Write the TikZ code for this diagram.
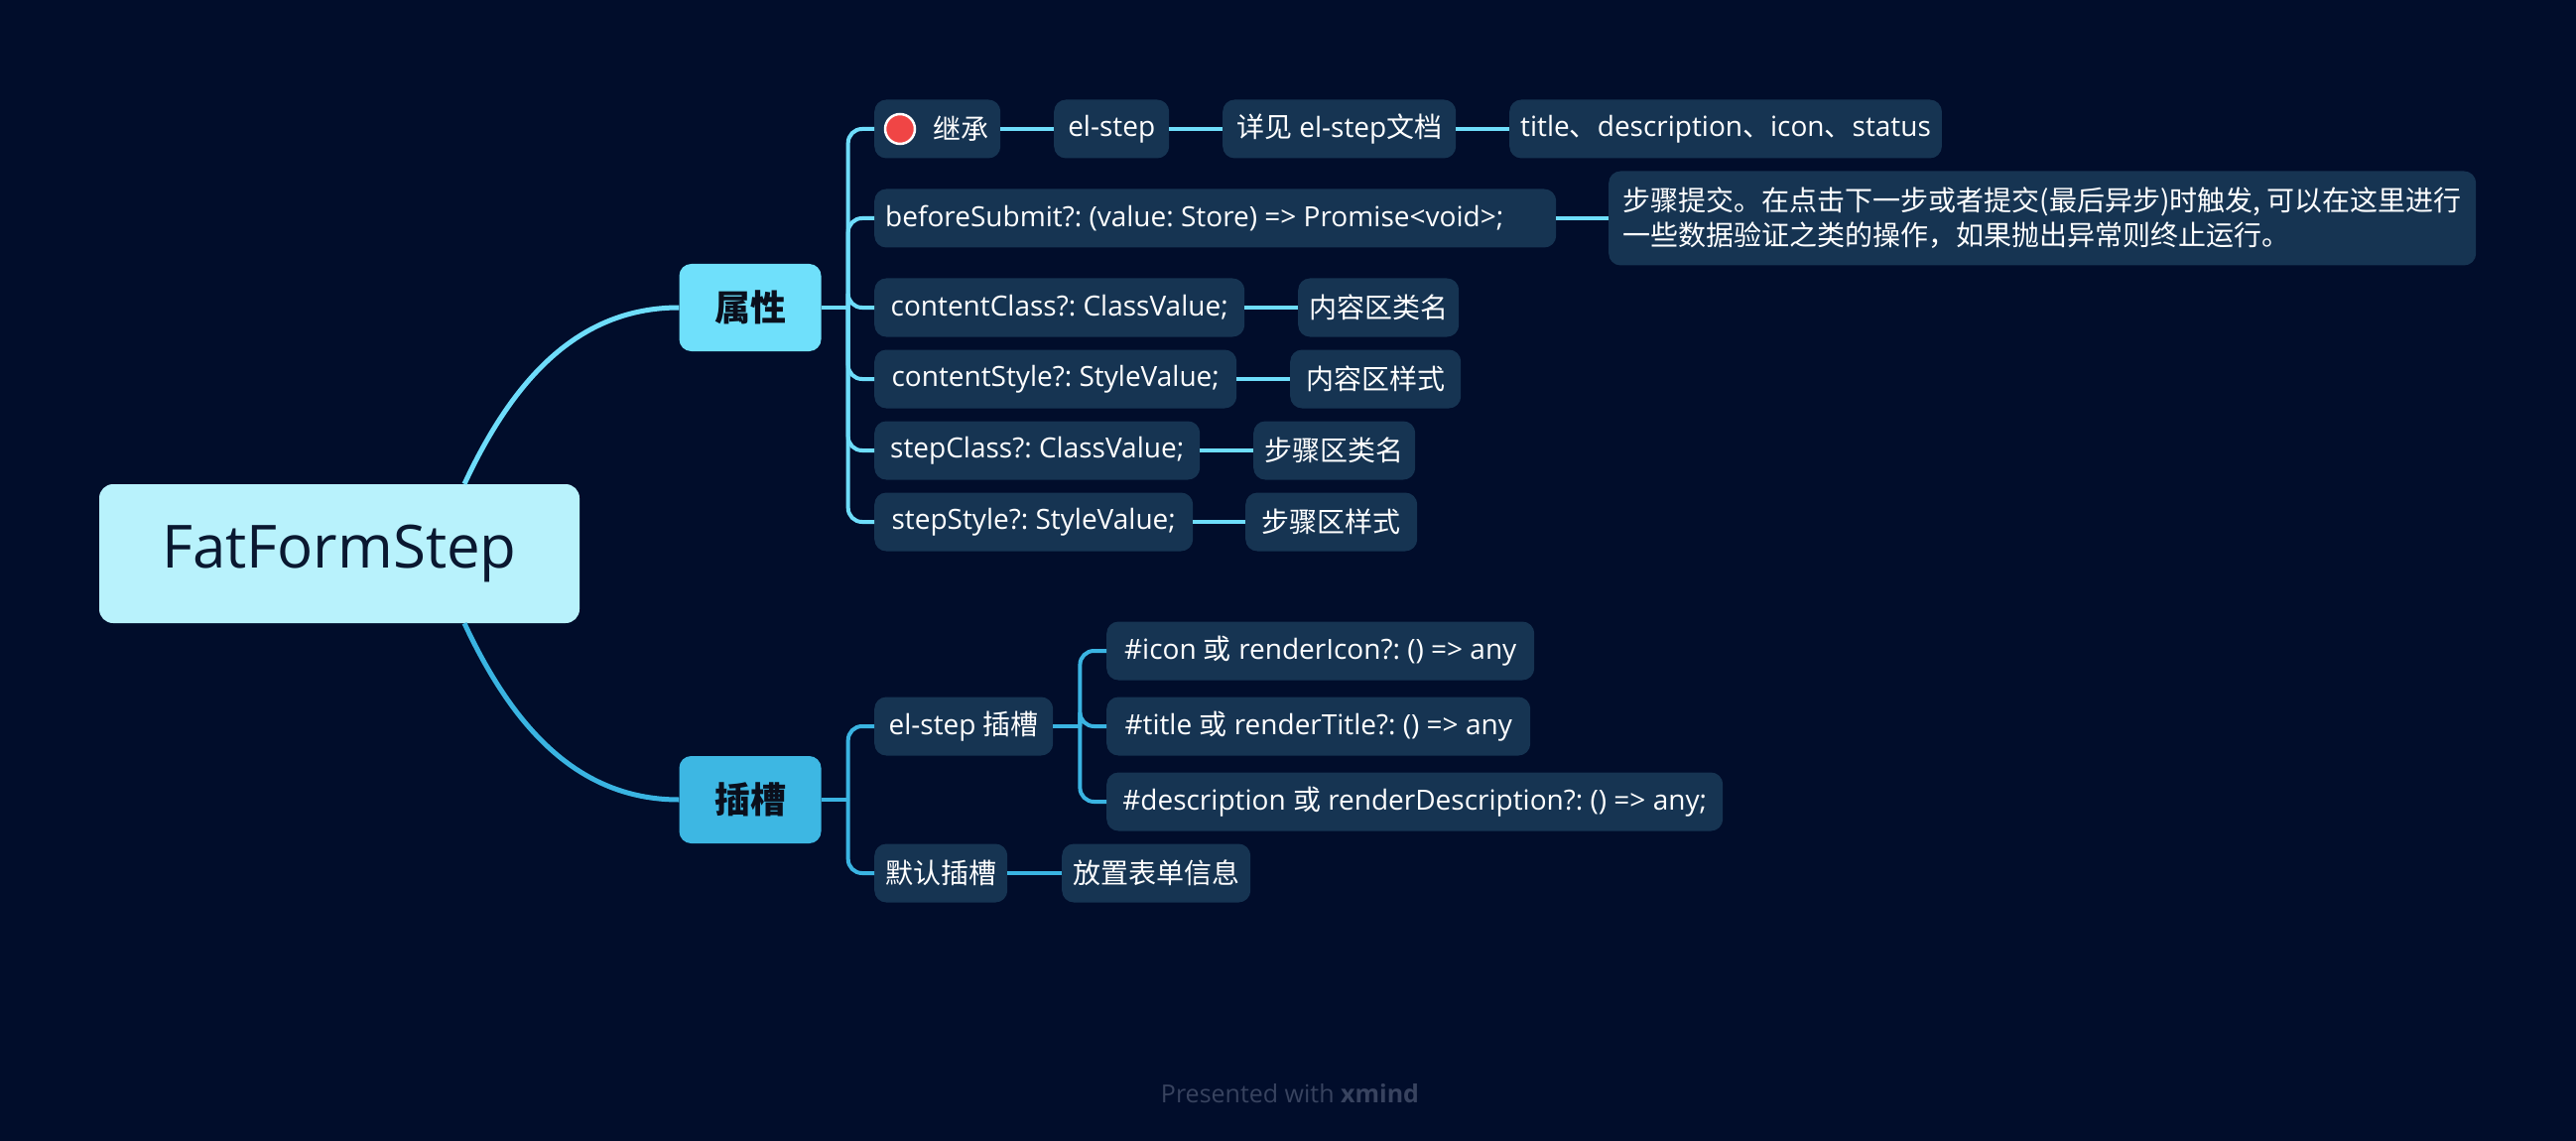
\documentclass[tikz,border=0pt]{standalone}
\usepackage{fontspec}
\setmainfont{Open Sans}
\newfontfamily\cjkfont{Noto Sans CJK SC}
\newcommand{\zh}[1]{{\cjkfont #1}}
\usepackage{tikz}

\definecolor{bgnavy}{HTML}{010D2B}
\definecolor{cardfill}{HTML}{163452}
\definecolor{rootfill}{HTML}{B8F2FC}
\definecolor{roottext}{HTML}{0A1830}
\definecolor{attrfill}{HTML}{6FE0FB}
\definecolor{slotfill}{HTML}{3DB7E3}
\definecolor{attrline}{HTML}{6EDDFB}
\definecolor{slotline}{HTML}{3AB4E2}
\definecolor{topictext}{HTML}{0A0F1C}
\definecolor{dotred}{HTML}{F04545}
\definecolor{creditgray}{HTML}{38435F}

\begin{document}
\frenchspacing
\begin{tikzpicture}[x=1pt, y=-1pt,
    rootbox/.style={rectangle, rounded corners=14pt, fill=rootfill, text=roottext,
        minimum width=484pt, minimum height=140pt, font=\fontsize{60}{70}\selectfont},
    topic/.style={rectangle, rounded corners=12pt, minimum width=143pt, minimum height=88pt,
        text=topictext, font=\fontsize{36}{40}\selectfont\bfseries},
    leaf/.style={rectangle, rounded corners=12pt, fill=cardfill, text=white, anchor=west,
        minimum width=#1, minimum height=59pt, inner xsep=11pt, inner ysep=0pt,
        font=\fontsize{28}{35}\selectfont},
    leaf/.default=0pt,
    reddot/.style={circle, fill=dotred, draw=white, line width=2.5pt, minimum size=30pt, inner sep=0pt},
    attrlink/.style={draw=attrline, line width=4pt},
    slotlink/.style={draw=slotline, line width=4pt},
    credit/.style={text=creditgray, font=\fontsize{25}{30}\selectfont}]

        \useasboundingbox (0,0) rectangle (2596,1150);
        \fill[bgnavy] (0,0) rectangle (2596,1150);

        % Root and main topics
        \node[rootbox] (root) at (342,558) {FatFormStep};
        \node[topic, fill=attrfill] (attr) at (756,310) {\zh{属性}};
        \node[topic, fill=slotfill] (slot) at (756,806) {\zh{插槽}};

        % Props
        \node[leaf=127pt] (inherit) at (881,130) {\hspace{47pt}\zh{继承}};
        \node[reddot] (dot) at ([xshift=26pt]inherit.west) {};
        \node[leaf=116pt] (elstep) at (1062,130) {el-step};
        \node[leaf=235pt] (elstepdoc) at (1232,130) {\zh{详见} el-step\zh{文档}};
        \node[leaf] (fields) at (1521,130) {title\zh{、}description\zh{、}icon\zh{、}status};
        \node[leaf, text width=665pt, align=flush left] (before) at (881,220) {beforeSubmit?: (value: Store) => Promise<void>;};
        \node[leaf=874pt, inner xsep=13pt, minimum height=95pt, align=flush left] (submitnote) at (1621,220)
            {\zh{步骤提交。在点击下一步或者提交(最后异步)时触发, 可以在这里进行}\\\zh{一些数据验证之类的操作，如果抛出异常则终止运行。}};
        \node[leaf=373pt] (cclass) at (881,310) {contentClass?: ClassValue;};
        \node[leaf=162pt] (cclassnote) at (1308,310) {\zh{内容区类名}};
        \node[leaf=365pt] (cstyle) at (881,382) {contentStyle?: StyleValue;};
        \node[leaf=172pt] (cstylenote) at (1300,382) {\zh{内容区样式}};
        \node[leaf=328pt] (sclass) at (881,454) {stepClass?: ClassValue;};
        \node[leaf=163pt] (sclassnote) at (1263,454) {\zh{步骤区类名}};
        \node[leaf=321pt] (sstyle) at (881,526) {stepStyle?: StyleValue;};
        \node[leaf=173pt] (sstylenote) at (1255,526) {\zh{步骤区样式}};

        % Slots
        \node[leaf=180pt] (elslot) at (881,732) {el-step \zh{插槽}};
        \node[leaf=431pt] (iconslot) at (1115,656) {\#icon \zh{或} renderIcon?: () => any};
        \node[leaf=427pt] (titleslot) at (1115,732) {\#title \zh{或} renderTitle?: () => any};
        \node[leaf=621pt] (descslot) at (1115,808) {\#description \zh{或} renderDescription?: () => any;};
        \node[leaf=134pt] (defslot) at (881,880) {\zh{默认插槽}};
        \node[leaf=189pt] (formnote) at (1070,880) {\zh{放置表单信息}};

        % Curves from root
        \draw[attrlink, line width=5pt] ([xshift=126pt]root.north) .. controls +(48,-103) and +(-103,0) .. (attr.west);
        \draw[slotlink, line width=5pt] ([xshift=126pt]root.south) .. controls +(48,103) and +(-103,0) .. (slot.west);

        % Forks
        \coordinate (attrfork) at ([xshift=27pt]attr.east);
        \coordinate (slotfork) at ([xshift=27pt]slot.east);
        \coordinate (elfork) at ([xshift=27pt]elslot.east);
        \draw[attrlink] (attr.east) -- (attrfork);
        \draw[slotlink] (slot.east) -- (slotfork);
        \draw[slotlink] (elslot.east) -- (elfork);
        \foreach \kid in {inherit,before,cclass,cstyle,sclass,sstyle} {
            \draw[attrlink, rounded corners=14pt] (attrfork) |- (\kid.west);
        }
        \foreach \kid in {elslot,defslot} {
            \draw[slotlink, rounded corners=14pt] (slotfork) |- (\kid.west);
        }
        \foreach \kid in {iconslot,titleslot,descslot} {
            \draw[slotlink, rounded corners=14pt] (elfork) |- (\kid.west);
        }

        % Leaf links
        \foreach \a/\b in {inherit/elstep, elstep/elstepdoc, elstepdoc/fields, before/submitnote,
                cclass/cclassnote, cstyle/cstylenote, sclass/sclassnote, sstyle/sstylenote} {
            \draw[attrlink] (\a.east) -- (\b.west);
        }
        \draw[slotlink] (defslot.east) -- (formnote.west);

        % Footer
        \node[credit] (footer) at (1300,1102) {Presented with \textbf{xmind}};
    \end{tikzpicture}
\end{document}
